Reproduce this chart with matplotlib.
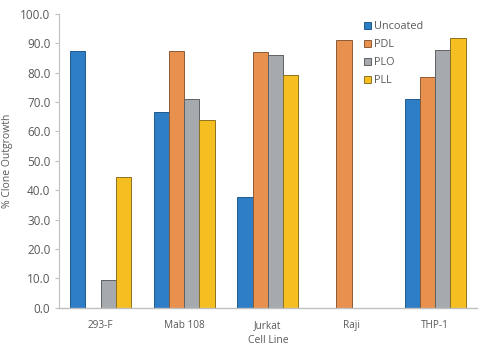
import matplotlib
matplotlib.use("Agg")
import matplotlib.pyplot as plt
import numpy as np

categories = ["293-F", "Mab 108", "Jurkat", "Raji", "THP-1"]
series_names = ["Uncoated", "PDL", "PLO", "PLL"]
uncoated = [87.3, 66.7, 37.8, 0.0, 70.9]
pdl = [0.0, 87.5, 87.0, 91.3, 78.4]
plo = [9.4, 70.9, 85.9, 0.0, 87.6]
pll = [44.6, 63.8, 79.1, 0.0, 91.7]
yticks = [0, 10, 20, 30, 40, 50, 60, 70, 80, 90, 100]

colors = ["#2E7EC6", "#E8914F", "#A6A9AE", "#F5BF22"]
edges = ["#1F5A8E", "#8C5A34", "#5E6063", "#8F7220"]

plt.rcParams['font.family'] = ['Open Sans', 'DejaVu Sans']
fig = plt.figure(figsize=(4.82, 3.53), dpi=100)
ax = fig.add_axes([58.7/482, 1-307.7/353, (477-58.7)/482, (307.7-14)/353])

x = np.arange(len(categories))
w = 0.183
data = [uncoated, pdl, plo, pll]
for i, (vals, name) in enumerate(zip(data, series_names)):
    ax.bar(x + (i - 1.5) * w, vals, w, color=colors[i], edgecolor=edges[i],
           linewidth=0.7, label=name)

ax.set_xlim(-0.5, len(categories) - 0.5)
ax.set_ylim(0, 100)
ax.set_yticks(yticks)
ax.set_yticklabels([f"{v:.1f}" for v in yticks])
ax.set_xticks(x)
ax.set_xticklabels(categories)
txt = "#595959"
ax.tick_params(axis='y', colors="#BFBFBF", labelcolor=txt, labelsize=8.5, length=3, width=0.8, pad=3)
ax.tick_params(axis='x', length=0, labelcolor=txt, labelsize=7.2, pad=9)
for s in ["top", "right"]:
    ax.spines[s].set_visible(False)
ax.spines["left"].set_color("#BFBFBF")
ax.spines["bottom"].set_color("#BFBFBF")
ax.spines["bottom"].set_linewidth(1.0)
ax.set_xlabel("Cell Line", color=txt, fontsize=7.5, labelpad=3)
ax.set_ylabel("% Clone Outgrowth", color=txt, fontsize=7.5, labelpad=5)

leg = ax.legend(loc="upper left", bbox_to_anchor=(0.717, 0.995), frameon=False,
                fontsize=7.8, handlelength=0.6, handleheight=0.6,
                handletextpad=0.35, labelspacing=0.65, borderaxespad=0.1)
for t in leg.get_texts():
    t.set_color(txt)

fig.savefig("out.png", dpi=100)
